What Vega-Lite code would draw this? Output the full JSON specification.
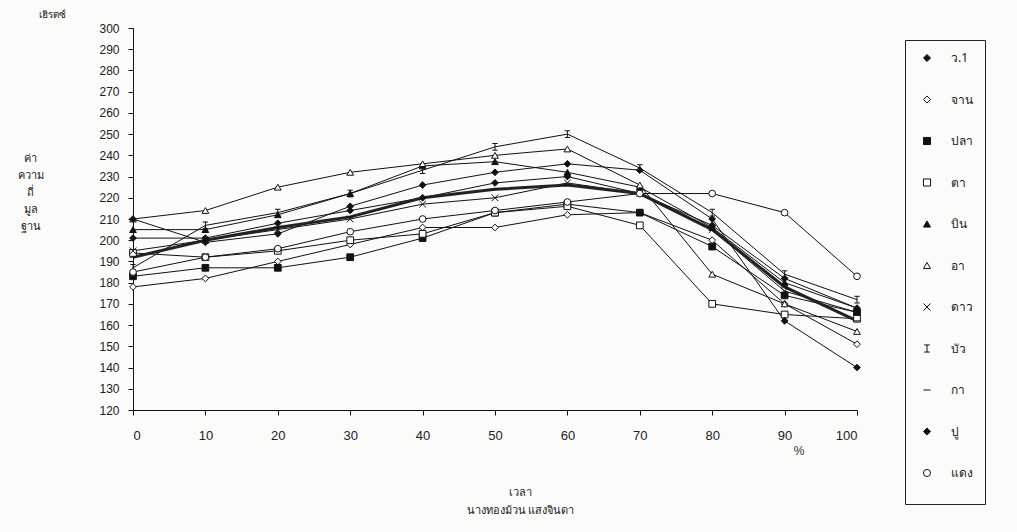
{
  "$schema": "https://vega.github.io/schema/vega-lite/v6.json",
  "autosize": {"type": "none"},
  "width": 724,
  "height": 382,
  "padding": {"left": 133, "top": 28, "right": 160, "bottom": 122},
  "background": "#fbfbfa",
  "title": {"text": "เฮิรตซ์", "anchor": "start", "frame": "group", "dx": -94, "dy": 10, "offset": 2, "fontSize": 10, "fontWeight": "normal", "color": "#222", "font": "Noto Sans", "baseline": "bottom"},
  "config": {
    "font": "Noto Sans",
    "view": {"stroke": null},
    "axis": {"grid": false, "domainColor": "#111", "tickColor": "#111", "labelColor": "#222", "labelFontSize": 12, "labelFont": "Liberation Sans", "titleFont": "Noto Sans", "titleFontWeight": "normal", "titleColor": "#222", "titleFontSize": 11, "labelOverlap": false},
    "legend": {"orient": "none", "legendX": 772, "legendY": 12, "strokeColor": "#222", "padding": 12, "rowPadding": 29.5, "labelFontSize": 12, "labelColor": "#222", "symbolStrokeColor": "#111", "symbolStrokeWidth": 1, "symbolSize": 50, "symbolOffset": 4, "labelOffset": 18, "symbolOpacity": 1, "labelFont": "Noto Sans", "titleOrient": "bottom", "titlePadding": 2, "titleFontSize": 12, "titleColor": "#222", "titleFont": "Liberation Sans"}
  },
  "encoding": {
    "x": {"field": "x", "type": "quantitative", "scale": {"domain": [0, 100], "nice": false, "zero": false},
          "axis": {"values": [0,10,20,30,40,50,60,70,80,90,100], "tickSize": 5, "labelPadding": 14, "labelFontSize": 13, "labelOverlap": false, "title": ["เวลา", "นางทองม้วน แสงจินดา"], "titleX": 387, "titleY": 76, "titleBaseline": "top", "titleLineHeight": 18, "titleFontSize": 11}},
    "y": {"field": "v", "type": "quantitative", "scale": {"domain": [120, 300], "nice": false, "zero": false},
          "axis": {"values": [120,130,140,150,160,170,180,190,200,210,220,230,240,250,260,270,280,290,300], "labelOverlap": false, "tickSize": 5, "labelPadding": 9, "title": ["ค่า", "ความ", "ถี่", "มูล", "ฐาน"], "titleAngle": 0, "titleX": -103, "titleY": 124, "titleAlign": "center", "titleBaseline": "top", "titleLineHeight": 17}}
  },
  "layer": [
    {
      "data": {"name": "series_data"},
      "mark": {"type": "line", "color": "#111", "strokeWidth": 1},
      "encoding": {"detail": {"field": "series"}}
    },
    {
      "data": {"name": "series_data"},
      "transform": [{"filter": {"field": "series", "equal": "กา"}}],
      "mark": {"type": "line", "color": "#222", "strokeWidth": 3},
      "encoding": {"detail": {"field": "series"}}
    },
    {
      "data": {"name": "series_data"},
      "mark": {"type": "point", "filled": true, "stroke": "#111", "strokeWidth": 1, "size": 45, "opacity": 1},
      "encoding": {
        "shape": {"field": "series", "type": "nominal",
                  "scale": {"domain": ["ว.1","จาน","ปลา","ตา","บิน","อา","ดาว","บัว","กา","ปู","แดง"], "range": ["diamond","diamond","square","square","triangle-up","triangle-up","M-1,-1L1,1M-1,1L1,-1","M-0.8,-1L0.8,-1M0,-1L0,1M-0.8,1L0.8,1","M-1,0L1,0","diamond","circle"]},
                  "legend": {"title": "\u00a0\u00a0\u00a0\u00a0\u00a0\u00a0\u00a0\u00a0\u00a0\u00a0\u00a0\u00a0\u00a0\u00a0\u00a0\u00a0\u00a0\u00a0\u00a0\u00a0\u00a0\u00a0\u00a0\u00a0\u00a0\u00a0", "encode": {"symbols": {"update": {"stroke": {"value": "#111"}, "strokeWidth": {"value": 1}}}}}},
        "fill": {"field": "series", "type": "nominal",
                 "scale": {"domain": ["ว.1","จาน","ปลา","ตา","บิน","อา","ดาว","บัว","กา","ปู","แดง"], "range": ["#111","#fff","#111","#fff","#111","#fff","#fff","#fff","#fff","#111","#fff"]},
                 "legend": {"title": "\u00a0\u00a0\u00a0\u00a0\u00a0\u00a0\u00a0\u00a0\u00a0\u00a0\u00a0\u00a0\u00a0\u00a0\u00a0\u00a0\u00a0\u00a0\u00a0\u00a0\u00a0\u00a0\u00a0\u00a0\u00a0\u00a0", "encode": {"symbols": {"update": {"stroke": {"value": "#111"}, "strokeWidth": {"value": 1}}}}}}
      }
    },
    {
      "data": {"values": [{"x": 92, "v": 100.5, "label": "%"}]},
      "mark": {"type": "text", "fontSize": 12, "color": "#333", "font": "Liberation Sans"},
      "encoding": {"text": {"field": "label"}}
    }
  ],
  "datasets": {
    "series_data": [
      {"series": "ว.1", "x": 0, "v": 201}, {"series": "ว.1", "x": 10, "v": 201}, {"series": "ว.1", "x": 20, "v": 208}, {"series": "ว.1", "x": 30, "v": 214}, {"series": "ว.1", "x": 40, "v": 220}, {"series": "ว.1", "x": 50, "v": 227}, {"series": "ว.1", "x": 60, "v": 230}, {"series": "ว.1", "x": 70, "v": 222}, {"series": "ว.1", "x": 80, "v": 207}, {"series": "ว.1", "x": 90, "v": 182}, {"series": "ว.1", "x": 100, "v": 168},
      {"series": "จาน", "x": 0, "v": 178}, {"series": "จาน", "x": 10, "v": 182}, {"series": "จาน", "x": 20, "v": 190}, {"series": "จาน", "x": 30, "v": 198}, {"series": "จาน", "x": 40, "v": 206}, {"series": "จาน", "x": 50, "v": 206}, {"series": "จาน", "x": 60, "v": 212}, {"series": "จาน", "x": 70, "v": 213}, {"series": "จาน", "x": 80, "v": 200}, {"series": "จาน", "x": 90, "v": 170}, {"series": "จาน", "x": 100, "v": 151},
      {"series": "ปลา", "x": 0, "v": 183}, {"series": "ปลา", "x": 10, "v": 187}, {"series": "ปลา", "x": 20, "v": 187}, {"series": "ปลา", "x": 30, "v": 192}, {"series": "ปลา", "x": 40, "v": 201}, {"series": "ปลา", "x": 50, "v": 213}, {"series": "ปลา", "x": 60, "v": 217}, {"series": "ปลา", "x": 70, "v": 213}, {"series": "ปลา", "x": 80, "v": 197}, {"series": "ปลา", "x": 90, "v": 174}, {"series": "ปลา", "x": 100, "v": 166},
      {"series": "ตา", "x": 0, "v": 194}, {"series": "ตา", "x": 10, "v": 192}, {"series": "ตา", "x": 20, "v": 195}, {"series": "ตา", "x": 30, "v": 200}, {"series": "ตา", "x": 40, "v": 203}, {"series": "ตา", "x": 50, "v": 213}, {"series": "ตา", "x": 60, "v": 216}, {"series": "ตา", "x": 70, "v": 207}, {"series": "ตา", "x": 80, "v": 170}, {"series": "ตา", "x": 90, "v": 165}, {"series": "ตา", "x": 100, "v": 163},
      {"series": "บิน", "x": 0, "v": 205}, {"series": "บิน", "x": 10, "v": 205}, {"series": "บิน", "x": 20, "v": 212}, {"series": "บิน", "x": 30, "v": 222}, {"series": "บิน", "x": 40, "v": 235}, {"series": "บิน", "x": 50, "v": 237}, {"series": "บิน", "x": 60, "v": 232}, {"series": "บิน", "x": 70, "v": 225}, {"series": "บิน", "x": 80, "v": 206}, {"series": "บิน", "x": 90, "v": 180}, {"series": "บิน", "x": 100, "v": 168},
      {"series": "อา", "x": 0, "v": 210}, {"series": "อา", "x": 10, "v": 214}, {"series": "อา", "x": 20, "v": 225}, {"series": "อา", "x": 30, "v": 232}, {"series": "อา", "x": 40, "v": 236}, {"series": "อา", "x": 50, "v": 240}, {"series": "อา", "x": 60, "v": 243}, {"series": "อา", "x": 70, "v": 226}, {"series": "อา", "x": 80, "v": 184}, {"series": "อา", "x": 90, "v": 170}, {"series": "อา", "x": 100, "v": 157},
      {"series": "ดาว", "x": 0, "v": 195}, {"series": "ดาว", "x": 10, "v": 200}, {"series": "ดาว", "x": 20, "v": 205}, {"series": "ดาว", "x": 30, "v": 210}, {"series": "ดาว", "x": 40, "v": 217}, {"series": "ดาว", "x": 50, "v": 220}, {"series": "ดาว", "x": 60, "v": 227}, {"series": "ดาว", "x": 70, "v": 222}, {"series": "ดาว", "x": 80, "v": 205}, {"series": "ดาว", "x": 90, "v": 176}, {"series": "ดาว", "x": 100, "v": 166},
      {"series": "บัว", "x": 0, "v": 187}, {"series": "บัว", "x": 10, "v": 207}, {"series": "บัว", "x": 20, "v": 213}, {"series": "บัว", "x": 30, "v": 222}, {"series": "บัว", "x": 40, "v": 233}, {"series": "บัว", "x": 50, "v": 244}, {"series": "บัว", "x": 60, "v": 250}, {"series": "บัว", "x": 70, "v": 234}, {"series": "บัว", "x": 80, "v": 213}, {"series": "บัว", "x": 90, "v": 184}, {"series": "บัว", "x": 100, "v": 172},
      {"series": "กา", "x": 0, "v": 192}, {"series": "กา", "x": 10, "v": 200}, {"series": "กา", "x": 20, "v": 206}, {"series": "กา", "x": 30, "v": 211}, {"series": "กา", "x": 40, "v": 220}, {"series": "กา", "x": 50, "v": 224}, {"series": "กา", "x": 60, "v": 226}, {"series": "กา", "x": 70, "v": 222}, {"series": "กา", "x": 80, "v": 205}, {"series": "กา", "x": 90, "v": 178}, {"series": "กา", "x": 100, "v": 162},
      {"series": "ปู", "x": 0, "v": 210}, {"series": "ปู", "x": 10, "v": 199}, {"series": "ปู", "x": 20, "v": 203}, {"series": "ปู", "x": 30, "v": 216}, {"series": "ปู", "x": 40, "v": 226}, {"series": "ปู", "x": 50, "v": 232}, {"series": "ปู", "x": 60, "v": 236}, {"series": "ปู", "x": 70, "v": 233}, {"series": "ปู", "x": 80, "v": 210}, {"series": "ปู", "x": 90, "v": 162}, {"series": "ปู", "x": 100, "v": 140},
      {"series": "แดง", "x": 0, "v": 185}, {"series": "แดง", "x": 10, "v": 192}, {"series": "แดง", "x": 20, "v": 196}, {"series": "แดง", "x": 30, "v": 204}, {"series": "แดง", "x": 40, "v": 210}, {"series": "แดง", "x": 50, "v": 214}, {"series": "แดง", "x": 60, "v": 218}, {"series": "แดง", "x": 70, "v": 222}, {"series": "แดง", "x": 80, "v": 222}, {"series": "แดง", "x": 90, "v": 213}, {"series": "แดง", "x": 100, "v": 183}
    ]
  }
}
